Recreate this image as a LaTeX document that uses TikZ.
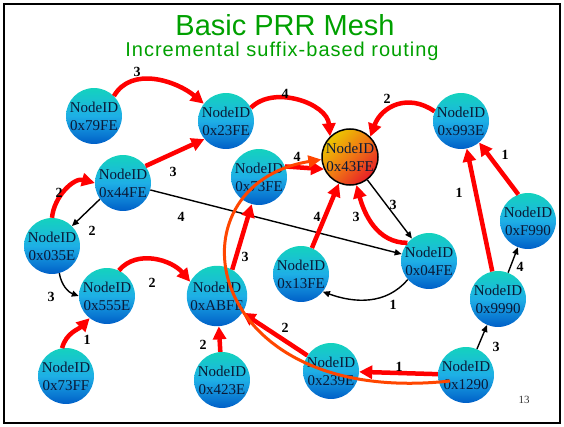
\documentclass[tikz,border=0pt]{standalone}
\usepackage{xcolor}
\usepackage{fontspec}
\setmainfont{Liberation Serif}
\newfontfamily\titlefont{Liberation Sans}
\newfontfamily\subtitlefont[LetterSpace=5]{Liberation Sans}
\usetikzlibrary{arrows.meta}
\definecolor{slidegreen}{RGB}{0,160,0}
\definecolor{peertop}{RGB}{20,210,190}
\definecolor{peermid}{RGB}{30,175,230}
\definecolor{peerbot}{RGB}{0,95,200}
\definecolor{roottop}{RGB}{235,200,0}
\definecolor{rootmid}{RGB}{240,120,20}
\definecolor{rootbot}{RGB}{230,30,40}
\definecolor{idtext}{RGB}{10,25,55}
\definecolor{hopred}{RGB}{255,0,0}
\definecolor{routeorange}{RGB}{255,70,0}

\begin{document}
\begin{tikzpicture}[x=1pt,y=1pt,
  peer/.style={circle, minimum size=54pt, inner sep=0pt, top color=peertop, bottom color=peerbot, middle color=peermid, text=idtext, align=center, font=\fontsize{15}{18}\selectfont},
  root/.style={peer, draw=black, line width=1.5pt, minimum size=56pt, top color=roottop, bottom color=rootbot, middle color=rootmid, shading angle=45},
  hop/.style={hopred, line width=4.5pt, -{Triangle[length=13pt,width=13pt]}},
  link/.style={black, line width=1.4pt, -{Triangle[length=7pt,width=6pt]}},
  route/.style={routeorange, line width=3pt, -{Triangle[length=13pt,width=12pt]}},
  cost/.style={font=\fontsize{14}{14}\bfseries\selectfont, inner sep=0pt}]
\useasboundingbox (0,0) rectangle (564,426);
\draw[line width=2pt] (4,3) rectangle (560,422);

% title
\node[font=\titlefont\fontsize{29}{29}\selectfont, text=slidegreen, anchor=base] (title) at (285,390) {Basic PRR Mesh};
\node[font=\subtitlefont\fontsize{20}{20}\selectfont, text=slidegreen, anchor=base] (subtitle) at (282,369) {Incremental suffix-based routing};

% nodes
\node[peer] (n79FE) at (94,310) {NodeID\\0x79FE};
\node[peer] (n23FE) at (226,305) {NodeID\\0x23FE};
\node[peer] (n993E) at (461,305) {NodeID\\0x993E};
\node[peer] (n44FE) at (123,243) {NodeID\\0x44FE};
\node[peer] (n73FE) at (259,249) {NodeID\\0x73FE};
\node[peer] (n035E) at (52,180) {NodeID\\0x035E};
\node[peer] (nF990) at (528,205) {NodeID\\0xF990};
\node[peer] (n04FE) at (429,165) {NodeID\\0x04FE};
\node[peer] (n13FE) at (301,152) {NodeID\\0x13FE};
\node[peer] (n555E) at (107,130) {NodeID\\0x555E};
\node[peer] (nABFE) at (217,130) {NodeID\\0xABFE};
\node[peer] (n9990) at (498,127) {NodeID\\0x9990};
\node[peer] (n73FF) at (66,50) {NodeID\\0x73FF};
\node[peer] (n423E) at (222,46) {NodeID\\0x423E};
\node[peer] (n239E) at (331,55) {NodeID\\0x239E};
\node[peer] (n1290) at (466,51) {NodeID\\0x1290};
\node[root] (n43FE) at (350,269) {NodeID\\0x43FE};

% links
\draw[hop] (n79FE.45) to[out=60,in=140] (n23FE.142);
\draw[hop] (n23FE.28) to[out=45,in=95] (n43FE.134);
\draw[hop] (n993E.160) to[out=145,in=70,looseness=1.2] (n43FE.45);
\draw[hop] (n44FE.37) -- (n23FE.220);
\draw[hop] (n035E.90) to[out=85,in=165] (n44FE.180);
\draw[link] (n44FE.215) -- (n035E.45);
\draw[link] (n44FE) -- (n04FE);
\draw[hop] (n73FE.22) -- (n43FE.205);
\draw[hop] (nABFE.60) -- (n73FE.255);
\draw[hop] (n13FE) -- (n43FE);
\draw[hop] (n04FE.140) to[out=180,in=285] (n43FE.283);
\draw[link] (n43FE) -- (n04FE);
\draw[link] (n04FE.221) to[out=230,in=-20] (n13FE.321);
\draw[hop] (n555E.65) to[out=50,in=130] (nABFE.152);
\draw[link] (n035E.285) to[out=-80,in=160] (n555E.180);
\draw[hop] (n73FF.98) to[out=75,in=225] (n555E.232);
\draw[hop] (n423E) -- (nABFE);
\draw[hop] (n239E) -- (nABFE);
\draw[hop] (n1290) -- (n239E);
\draw[link] (n1290) -- (n9990);
\draw[link] (n9990) -- (nF990);
\draw[hop] (n9990) -- (n993E);
\draw[hop] (nF990.110) -- (n993E.310);

% route of a message
\coordinate (routeStart) at (450,45);
\draw[route] (routeStart) .. controls (200,18) and (165,241) .. (n43FE.185);

% hop costs
\node[cost] (c1) at (137,354) {3};
\node[cost] (c2) at (285,332) {4};
\node[cost] (c3) at (387,327) {2};
\node[cost] (c4) at (173,254) {3};
\node[cost] (c5) at (59,233) {2};
\node[cost] (c6) at (92,195) {2};
\node[cost] (c7) at (181,209) {4};
\node[cost] (c8) at (297,269) {4};
\node[cost] (c9) at (245,169) {3};
\node[cost] (c10) at (317,209) {4};
\node[cost] (c11) at (356,209) {3};
\node[cost] (c12) at (393,221) {3};
\node[cost] (c13) at (459,233) {1};
\node[cost] (c14) at (505,271) {1};
\node[cost] (c15) at (520,159) {4};
\node[cost] (c16) at (393,121) {1};
\node[cost] (c17) at (152,143) {2};
\node[cost] (c18) at (51,129) {3};
\node[cost] (c19) at (87,86) {1};
\node[cost] (c20) at (203,81) {2};
\node[cost] (c21) at (285,98) {2};
\node[cost] (c22) at (399,59) {1};
\node[cost] (c23) at (496,79) {3};

\node[font=\fontsize{11}{11}\selectfont, text=black!80] (page) at (524,26) {13};
\end{tikzpicture}
\end{document}
